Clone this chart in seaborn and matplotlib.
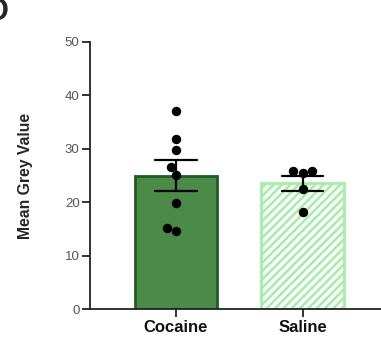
import matplotlib
matplotlib.use("Agg")
import matplotlib.pyplot as plt
import seaborn as sns
import pandas as pd

# Mean grey value per animal
groups = ["Cocaine", "Saline"]
cocaine_values = [37.1, 31.8, 29.8, 26.6, 25.1, 19.8, 14.6, 15.2]
saline_values = [25.8, 25.8, 25.4, 22.4, 18.2]
y_ticks = [0, 10, 20, 30, 40, 50]

df = pd.DataFrame({
    "group": ["Cocaine"] * len(cocaine_values) + ["Saline"] * len(saline_values),
    "value": cocaine_values + saline_values,
})

sns.set_style("ticks")
plt.rcParams["font.family"] = ["Liberation Sans", "DejaVu Sans"]
plt.rcParams["hatch.color"] = "#c4f4c6"
plt.rcParams["hatch.linewidth"] = 1.8

fig = plt.figure(figsize=(3.81, 3.47), dpi=100)
ax = fig.add_axes([90 / 381, 1 - 309 / 347, 291 / 381, 267 / 347])

sns.barplot(
    data=df, x="group", y="value", order=groups,
    errorbar="se", capsize=0.33, width=0.65,
    err_kws={"color": "black", "linewidth": 1.6},
    ax=ax, zorder=1,
)
fill_colors = ["#4c8a47", "white"]
edge_colors = ["#1f5e22", "#a2f0a6"]
for patch, fc, ec in zip(ax.patches, fill_colors, edge_colors):
    patch.set_facecolor(fc)
    patch.set_edgecolor(ec)
    patch.set_linewidth(2.0)
ax.patches[1].set_hatch("////")

sns.swarmplot(
    data=df, x="group", y="value", order=groups,
    color="black", size=6.8, ax=ax, zorder=3,
)

ax.set_ylim(0, 50)
ax.set_xlim(-0.68, 1.62)
ax.set_yticks(y_ticks)
ax.set_yticklabels([str(t) for t in y_ticks], color="#555555", fontsize=9.5)
ax.set_xlabel("")
ax.set_ylabel("Mean Grey Value", fontsize=11.3, fontweight="bold")
ax.yaxis.set_label_coords(-0.196, 0.5)
for lbl in ax.get_xticklabels():
    lbl.set_fontweight("bold")
    lbl.set_fontsize(12)
    lbl.set_color("#111111")
ax.tick_params(axis="both", direction="out", length=6, width=1.3, color="#222222")
ax.tick_params(axis="x", pad=2)
ax.tick_params(axis="y", pad=1.5)
for side in ["top", "right"]:
    ax.spines[side].set_visible(False)
for side in ["left", "bottom"]:
    ax.spines[side].set_linewidth(1.3)
    ax.spines[side].set_color("#222222")

fig.text(-0.035, 0.965, "D", fontsize=22, fontweight="bold", va="center")

fig.savefig("out.png", dpi=100)
